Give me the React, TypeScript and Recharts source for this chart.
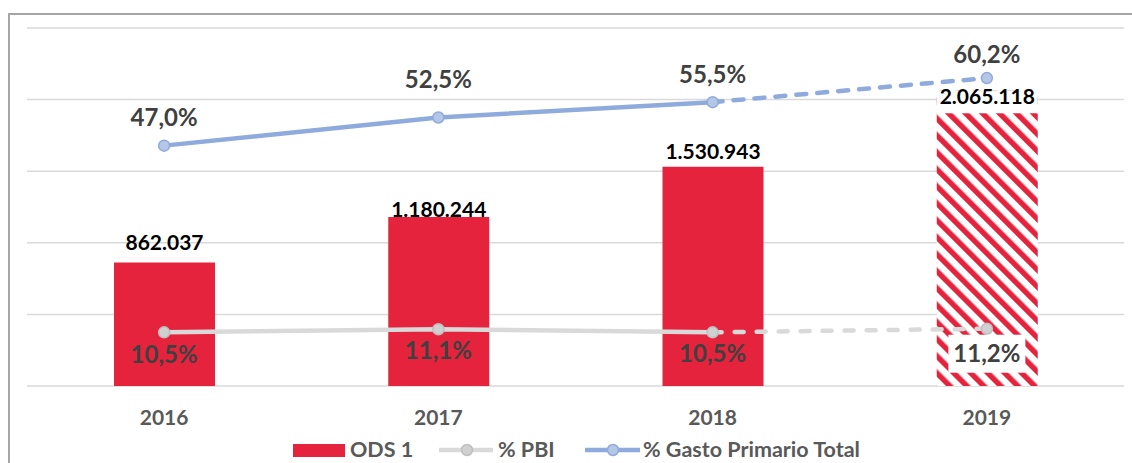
import React from 'react';
import { ComposedChart, Bar, Line, XAxis, YAxis, CartesianGrid, LabelList, Cell } from 'recharts';

const years = ['2016', '2017', '2018', '2019'];
const ods1 = [862037, 1180244, 1530943, 2065118];
const pbi = [10.5, 11.1, 10.5, 11.2];
const gasto = [47.0, 52.5, 55.5, 60.2];
const leftTicks = [0, 500000, 1000000, 1500000, 2000000, 2500000];
const rightDomain = [0, 70];
const projectedIndex = 3;

// style constants
const RED = '#E5233D';
const BLUE = '#8FAADC';
const BLUE_DOT = '#B4C7E7';
const GREY = '#D9D9D9';
const GREY_DOT = '#D0D0D0';
const GREY_DOT_STROKE = '#BFBFBF';
const LABEL = '#404040';
const AXIS_TEXT = '#595959';
const FONT = 'Lato, "Open Sans", sans-serif';
const BAR_LABEL_GAP = [13, 0, 8, 0];
const GASTO_LABEL_ABOVE = [28, 38.5, 27.5, 24];
const PBI_LABEL_BELOW = [22, 21, 21.5, 25];

const data = years.map((year, i) => ({
  year,
  ods1: ods1[i],
  pbiSolid: i < projectedIndex ? pbi[i] : null,
  pbiDash: i >= projectedIndex - 1 ? pbi[i] : null,
  gastoSolid: i < projectedIndex ? gasto[i] : null,
  gastoDash: i >= projectedIndex - 1 ? gasto[i] : null,
}));

const fmtNum = (n: number) => String(n).replace(/\B(?=(\d{3})+(?!\d))/g, '.');
const fmtPct = (v: number) => v.toFixed(1).replace('.', ',') + '%';

const BarLabel = (props: any) => {
  const { x, y, width, value, index } = props;
  const cx = x + width / 2;
  if (index === projectedIndex) {
    return (
      <g>
        <rect x={x} y={y} width={width} height={23} fill="#fff" />
        <text x={cx} y={y + 14} textAnchor="middle" fontFamily={FONT} fontWeight={700} fontSize={21} fill="#000">
          {fmtNum(value)}
        </text>
      </g>
    );
  }
  return (
    <text x={cx} y={y - BAR_LABEL_GAP[index]} textAnchor="middle" fontFamily={FONT} fontWeight={700} fontSize={21} fill="#000">
      {fmtNum(value)}
    </text>
  );
};

const makeGastoLabel = (dashed: boolean) => (props: any) => {
  const { x, y, value, index } = props;
  if (value == null) return null;
  if (dashed ? index !== projectedIndex : index >= projectedIndex) return null;
  const center = y - GASTO_LABEL_ABOVE[index];
  return (
    <text x={x} y={center + 8.6} textAnchor="middle" fontFamily={FONT} fontWeight={700} fontSize={24} fill={LABEL}>
      {fmtPct(value)}
    </text>
  );
};

const makePbiLabel = (dashed: boolean) => (props: any) => {
  const { x, y, value, index } = props;
  if (value == null) return null;
  if (dashed ? index !== projectedIndex : index >= projectedIndex) return null;
  const center = y + PBI_LABEL_BELOW[index];
  return (
    <g>
      {dashed && <rect x={x - 38.5} y={center - 19} width={77} height={38} fill="#fff" />}
      <text x={x} y={center + 8.6} textAnchor="middle" fontFamily={FONT} fontWeight={700} fontSize={24} fill={LABEL}>
        {fmtPct(value)}
      </text>
    </g>
  );
};

const makeDot = (fill: string, stroke: string, dashed: boolean) => (props: any) => {
  const { cx, cy, index, value } = props;
  const show = value != null && (dashed ? index === projectedIndex : index < projectedIndex);
  if (!show || cx == null || cy == null) return <g key={`d-${index}`} />;
  return <circle key={`d-${index}`} cx={cx} cy={cy} r={5.5} fill={fill} stroke={stroke} strokeWidth={1.5} />;
};

const XTick = (props: any) => {
  const { x, y, payload } = props;
  return (
    <text x={x} y={y + 31} textAnchor="middle" fontFamily={FONT} fontWeight={700} fontSize={21} fill={AXIS_TEXT}>
      {payload.value}
    </text>
  );
};

const Legend = () => (
  <svg width={1132} height={463} style={{ position: 'absolute', left: 0, top: 0, pointerEvents: 'none' }}>
    <g fontFamily={FONT} fontWeight={700} fontSize={21.5} fill={AXIS_TEXT}>
      <rect x={293} y={444} width={52} height={13} fill={RED} />
      <text x={350} y={457}>ODS 1</text>
      <line x1={439} y1={450} x2={493} y2={450} stroke={GREY} strokeWidth={4.5} />
      <circle cx={467} cy={450} r={5.5} fill={GREY_DOT} stroke={GREY_DOT_STROKE} strokeWidth={1.5} />
      <text x={498} y={457}>% PBI</text>
      <line x1={585} y1={450} x2={640} y2={450} stroke={BLUE} strokeWidth={4.5} />
      <circle cx={613} cy={450} r={5.5} fill={BLUE_DOT} stroke={BLUE} strokeWidth={1.5} />
      <text x={643} y={457}>% Gasto Primario Total</text>
    </g>
  </svg>
);

export default function App() {
  return (
    <div style={{ position: 'relative', width: 1132, height: 463, overflow: 'hidden', background: '#fff' }}>
      <style>{`html,body{margin:0;padding:0;overflow:hidden;background:#fff}`}</style>
      <div
        style={{
          position: 'absolute', left: 8, top: 13, width: 1200, height: 500,
          borderTop: '2px solid #A6A6A6', borderLeft: '2px solid #A6A6A6', boxSizing: 'border-box',
        }}
      />
      <div style={{ position: 'absolute', left: 0, top: 0 }}>
        <ComposedChart width={1132} height={463} data={data} margin={{ top: 28, right: 8, left: 27, bottom: 37 }}>
          <defs>
            <pattern id="hatch" patternUnits="userSpaceOnUse" width={12} height={12} patternTransform="rotate(-45)">
              <rect x={0} y={0} width={12} height={12} fill="#fff" />
              <rect x={0} y={0} width={5.5} height={12} fill={RED} />
            </pattern>
          </defs>
          <CartesianGrid yAxisId="l" vertical={false} stroke={GREY} strokeWidth={1.5} />
          <XAxis dataKey="year" height={40} axisLine={false} tickLine={false} tick={<XTick />} interval={0} />
          <YAxis yAxisId="l" hide domain={[0, 2500000]} ticks={leftTicks} />
          <YAxis yAxisId="r" orientation="right" hide domain={rightDomain} />
          <Bar yAxisId="l" dataKey="ods1" barSize={101} fill={RED} isAnimationActive={false}>
            {data.map((d, i) => (
              <Cell key={d.year} fill={i === projectedIndex ? 'url(#hatch)' : RED} />
            ))}
            <LabelList dataKey="ods1" content={<BarLabel />} />
          </Bar>
          <Line yAxisId="r" dataKey="pbiSolid" stroke={GREY} strokeWidth={4.5} isAnimationActive={false}
            dot={makeDot(GREY_DOT, GREY_DOT_STROKE, false)} activeDot={false} connectNulls={false}>
            <LabelList dataKey="pbiSolid" content={makePbiLabel(false)} />
          </Line>
          <Line yAxisId="r" dataKey="pbiDash" stroke={GREY} strokeWidth={4.5} strokeDasharray="9 13" strokeLinecap="round"
            isAnimationActive={false} dot={makeDot(GREY_DOT, GREY_DOT_STROKE, true)} activeDot={false}>
            <LabelList dataKey="pbiDash" content={makePbiLabel(true)} />
          </Line>
          <Line yAxisId="r" dataKey="gastoSolid" stroke={BLUE} strokeWidth={4.5} isAnimationActive={false}
            dot={makeDot(BLUE_DOT, BLUE, false)} activeDot={false}>
            <LabelList dataKey="gastoSolid" content={makeGastoLabel(false)} />
          </Line>
          <Line yAxisId="r" dataKey="gastoDash" stroke={BLUE} strokeWidth={4.5} strokeDasharray="10 11" strokeLinecap="round"
            isAnimationActive={false} dot={makeDot(BLUE_DOT, BLUE, true)} activeDot={false}>
            <LabelList dataKey="gastoDash" content={makeGastoLabel(true)} />
          </Line>
        </ComposedChart>
      </div>
      <Legend />
    </div>
  );
}
